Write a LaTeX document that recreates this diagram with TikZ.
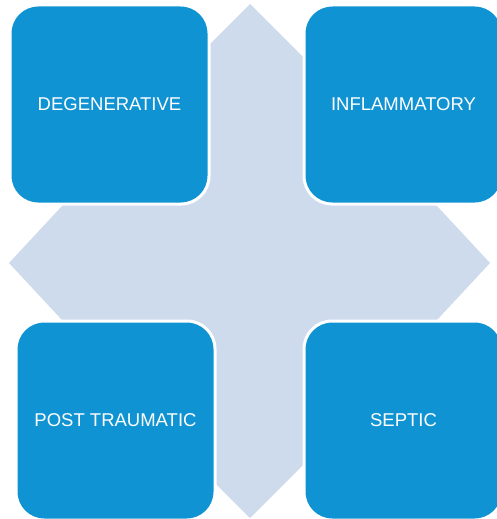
\documentclass[tikz,border=0pt]{standalone}
\usepackage{fontspec}
\setmainfont{Liberation Sans}
\definecolor{boxblue}{RGB}{16,147,210}
\definecolor{crossgray}{RGB}{205,219,237}

\begin{document}
\begin{tikzpicture}[x=1pt,y=-1pt,
    box/.style={fill=boxblue,draw=white,line width=3pt,rounded corners=28pt,
      minimum width=199pt,minimum height=199pt,inner sep=0pt,text=white,
      font=\fontsize{18.5}{22}\selectfont}]
      \useasboundingbox (0,0) rectangle (496,519);
      % background quad arrow, its shafts run under the boxes
      \fill[crossgray] (250,4) -- (350,104) -- (332,104) -- (332,177) -- (397,177)
        -- (397,163) -- (490,263) -- (397,363) -- (397,349) -- (332,349)
        -- (332,418) -- (350,418) -- (250,518) -- (150,418) -- (168,418)
        -- (168,349) -- (102,349) -- (102,363) -- (9,263) -- (102,163)
        -- (102,177) -- (168,177) -- (168,104) -- (150,104) -- cycle;
      \draw
        (109.5,104.5) node[box] (0){DEGENERATIVE}
        (403.5,104.5) node[box] (1){INFLAMMATORY}
        (115.5,420.5) node[box] (2){POST TRAUMATIC}
        (403.5,420.5) node[box] (3){SEPTIC};
    \end{tikzpicture}
\end{document}
